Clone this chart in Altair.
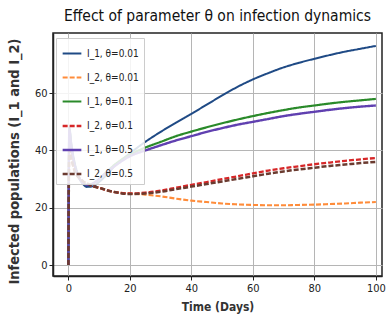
import altair as alt
import pandas as pd

t = [0, 0.3, 1, 2, 3, 4, 5, 6, 8, 10, 12, 15, 20, 25, 30, 35, 40, 45, 50, 55, 60, 65, 70, 75, 80, 85, 90, 95, 100]

i1_001 = [0, 48, 42, 36, 32, 29.5, 28, 27.3, 27.5, 29, 31, 34.5, 39, 43, 46.5, 49.7, 52.8, 56, 59.2, 62.2, 64.8, 67, 69, 70.6, 72, 73.3, 74.5, 75.5, 76.5]
i2_001 = [0, 40, 37, 33, 31, 30, 29, 28.5, 27.5, 27, 26.3, 25.5, 25, 24.6, 24, 23.2, 22.5, 22, 21.5, 21.2, 21, 20.9, 20.9, 21, 21.1, 21.3, 21.5, 21.8, 22]
i1_01 = [0, 47, 41, 35, 31.5, 29.5, 28.5, 28, 28.5, 30, 32, 35, 38.5, 41, 43, 45, 46.6, 48.1, 49.5, 50.8, 52, 53.1, 54.1, 55, 55.7, 56.4, 57, 57.5, 58]
i2_01 = [0, 40, 37, 33, 31, 30, 29, 28.5, 27.5, 27, 26.3, 25.5, 25, 25.3, 26, 27, 28, 29, 30, 31, 32, 33, 33.8, 34.5, 35.2, 35.8, 36.4, 36.9, 37.4]
i1_05 = [0, 47, 41, 35, 31.5, 29.5, 28.5, 28, 28.5, 30, 32, 34.5, 38, 40, 41.8, 43.5, 45, 46.5, 47.8, 49, 50, 51, 52, 52.8, 53.5, 54.2, 54.8, 55.3, 55.7]
i2_05 = [0, 40, 37, 33, 31, 30, 29, 28.5, 27.5, 27, 26.3, 25.5, 24.8, 25, 25.6, 26.5, 27.4, 28.3, 29.2, 30.1, 31, 31.9, 32.7, 33.4, 34, 34.6, 35.1, 35.6, 36]

names = ["I_1, θ=0.01", "I_2, θ=0.01", "I_1, θ=0.1", "I_2, θ=0.1", "I_1, θ=0.5", "I_2, θ=0.5"]
series = [i1_001, i2_001, i1_01, i2_01, i1_05, i2_05]
colors = ["#1f4a85", "#ff8c3a", "#2a8a2a", "#d62728", "#6040b0", "#6b3b30"]
dashes = [[1, 0], [5, 2], [1, 0], [5, 2], [1, 0], [5, 2]]
widths = [2, 2.5, 2, 2.5, 2, 2.5]

rows = []
for k, (n, s) in enumerate(zip(names, series)):
    for tt, v in zip(t, s):
        rows.append({"series": n, "order": k, "t": tt, "v": v})
df = pd.DataFrame(rows)

chart = alt.Chart(df).mark_line(clip=True, interpolate="monotone").encode(
    x=alt.X("t:Q", title="Time (Days)",
            scale=alt.Scale(domain=[-5, 102], nice=False, zero=False),
            axis=alt.Axis(values=[0, 20, 40, 60, 80, 100])),
    y=alt.Y("v:Q", title="Infected populations (I_1 and I_2)",
            scale=alt.Scale(domain=[-3.8, 81], nice=False, zero=False),
            axis=alt.Axis(values=[0, 20, 40, 60])),
    color=alt.Color("series:N", title=None,
                    scale=alt.Scale(domain=names, range=colors),
                    legend=alt.Legend(orient="none", legendX=3, legendY=5,
                                      fillColor="rgba(255,255,255,0.85)", strokeColor="#cccccc",
                                      padding=5, rowPadding=8, labelFontSize=10,
                                      labelFont="DejaVu Sans Condensed",
                                      symbolType="stroke", symbolSize=350, symbolStrokeWidth=2.5,
                                      labelColor="#222222")),
    strokeDash=alt.StrokeDash("series:N", title=None,
                              scale=alt.Scale(domain=names, range=dashes)),
    strokeWidth=alt.StrokeWidth("series:N", legend=None,
                                scale=alt.Scale(domain=names, range=widths)),
    order=alt.Order("t:Q"),
).properties(
    width=329, height=243,
    title=alt.TitleParams("Effect of parameter θ on infection dynamics", fontSize=15.5,
                          font="DejaVu Sans Condensed", fontWeight="normal", color="#111111", offset=9),
    autosize=alt.AutoSizeParams(type="none"),
    padding={"left": 53, "top": 33, "right": 4, "bottom": 48},
).configure_view(
    stroke="#222222", strokeWidth=1.5
).configure_axis(
    grid=True, gridColor="#b5b5b5", gridWidth=1,
    domainColor="#222222", domainWidth=1.5,
    tickColor="#222222", tickSize=4,
    labelFontSize=11, labelFont="DejaVu Sans Condensed", labelColor="#222222",
    titleFont="DejaVu Sans Condensed", titleFontWeight="bold", titleColor="#333333",
).configure_axisY(
    titlePadding=13, titleFontSize=14.5, titleY=128
).configure_axisX(
    titlePadding=8, titleFontSize=12
)

chart.save("out.html", embed_options={"renderer": "svg", "actions": False})
